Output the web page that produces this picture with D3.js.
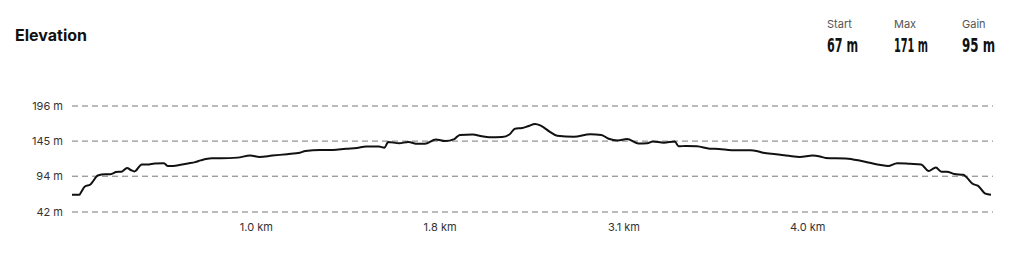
<!DOCTYPE html>
<html>
<head>
<meta charset="utf-8">
<script src="https://cdn.jsdelivr.net/npm/d3@7"></script>
<style>
  body { margin: 0; background: #fff; }
  svg { display: block; }
</style>
</head>
<body>
<div id="chart"></div>
<script>
// distance along route (km) and elevation (m)
const distKm = [0.00, 0.04, 0.05, 0.07, 0.10, 0.11, 0.14, 0.18, 0.21, 0.24, 0.27, 0.30, 0.32, 0.34, 0.38, 0.41, 0.45, 0.50, 0.52, 0.55,
  0.59, 0.63, 0.67, 0.70, 0.76, 0.81, 0.90, 0.97, 1.02, 1.09, 1.17, 1.24, 1.27, 1.35, 1.42, 1.49, 1.55, 1.60, 1.67, 1.70,
  1.72, 1.78, 1.83, 1.88, 1.92, 1.98, 2.03, 2.08, 2.11, 2.18, 2.23, 2.27, 2.34, 2.38, 2.41, 2.45, 2.48, 2.52, 2.55, 2.60,
  2.64, 2.73, 2.82, 2.88, 2.92, 2.97, 3.02, 3.08, 3.13, 3.16, 3.22, 3.28, 3.30, 3.34, 3.40, 3.47, 3.52, 3.59, 3.69, 3.73,
  3.76, 3.83, 3.90, 3.96, 4.03, 4.07, 4.10, 4.21, 4.29, 4.34, 4.40, 4.44, 4.49, 4.56, 4.62, 4.66, 4.70, 4.73, 4.76, 4.80,
  4.85, 4.87, 4.90, 4.93, 4.97, 5.00];
const elevM = [67, 67, 71, 79, 82, 85, 95, 97, 97, 100, 100.6, 106, 103, 101, 111, 111, 112.6, 113, 109, 109,
  110.6, 112.6, 114.5, 117, 120, 120, 121, 124, 122, 124, 126, 128, 130.7, 132, 132, 134, 135, 137, 137, 135.5,
  143.6, 142, 143.6, 141, 141, 147.4, 145, 148, 154, 154.6, 152, 150.7, 151, 154.6, 163, 164, 166.5, 170, 167.5, 158.5,
  152.7, 151.3, 155, 154, 148.4, 146, 148, 141.7, 142, 144.5, 142.7, 144.5, 137.4, 138, 137.5, 134, 133.5, 131.7, 131.7, 130.3,
  128, 126, 123.6, 122, 124, 122.6, 120.6, 119.8, 116.4, 113.5, 110.2, 108.8, 113, 112, 111, 101.6, 106.8, 100.6, 100.6, 97.3,
  96, 91.6, 83, 80, 68.6, 67];

const yTicks = [42, 94, 145, 196];
const xTickValues = [1.0, 2.0, 3.0, 4.0];
const xTickLabels = ["1.0 km", "1.8 km", "3.1 km", "4.0 km"];

const statLabels = ["Start", "Max", "Gain"];
const statValues = ["67 m", "171 m", "95 m"];

const width = 1021, height = 262;
const margin = { left: 72, right: 30, top: 106, bottom: 50 };

const svg = d3.select("#chart").append("svg")
  .attr("width", width)
  .attr("height", height);

// header
svg.append("text")
  .attr("x", 15).attr("y", 41)
  .attr("font-family", "Inter, 'DejaVu Sans', sans-serif")
  .attr("font-weight", 700)
  .attr("font-size", 16)
  .attr("fill", "#111")
  .text("Elevation");

// stats block, values in a squeezed bold face
const statX = [827, 894, 962];
const statW = [31, 34, 33];
statLabels.forEach((lab, i) => {
  svg.append("text")
    .attr("x", statX[i]).attr("y", 28)
    .attr("font-family", "Inter, sans-serif")
    .attr("font-size", 11)
    .attr("fill", "#555")
    .text(lab);
  svg.append("text")
    .attr("x", statX[i]).attr("y", 52)
    .attr("font-family", "'DejaVu Sans Condensed', 'DejaVu Sans', sans-serif")
    .attr("font-weight", 700)
    .attr("font-size", 19)
    .attr("textLength", statW[i])
    .attr("lengthAdjust", "spacingAndGlyphs")
    .attr("fill", "#111")
    .text(statValues[i]);
});

const x = d3.scaleLinear()
  .domain([0, d3.max(distKm)])
  .range([margin.left, width - margin.right]);

const y = d3.scaleLinear()
  .domain([42, 196])
  .range([212, 106]);

// grid lines + y labels
const grid = svg.append("g");
yTicks.forEach(t => {
  grid.append("line")
    .attr("x1", 72).attr("x2", 993)
    .attr("y1", y(t)).attr("y2", y(t))
    .attr("stroke", "#777")
    .attr("stroke-width", 1)
    .attr("stroke-dasharray", "6,4");
  grid.append("text")
    .attr("x", 63).attr("y", y(t) + 4)
    .attr("text-anchor", "end")
    .attr("font-family", "Inter, sans-serif")
    .attr("font-size", 11)
    .attr("fill", "#333")
    .text(t + " m");
});

// x axis labels
const xAxis = d3.axisBottom(x)
  .tickValues(xTickValues)
  .tickFormat((d, i) => xTickLabels[i])
  .tickSize(0)
  .tickPadding(0);

const gx = svg.append("g")
  .attr("transform", "translate(0,223)")
  .call(xAxis);
gx.select(".domain").remove();
gx.selectAll("text")
  .attr("font-family", "Inter, sans-serif")
  .attr("font-size", 11)
  .attr("fill", "#333");

// profile line
const line = d3.line()
  .x((d, i) => x(distKm[i]))
  .y(d => y(d))
  .curve(d3.curveMonotoneX);

svg.append("path")
  .datum(elevM)
  .attr("d", line)
  .attr("fill", "none")
  .attr("stroke", "#111")
  .attr("stroke-width", 2)
  .attr("stroke-linejoin", "round");
</script>
</body>
</html>
